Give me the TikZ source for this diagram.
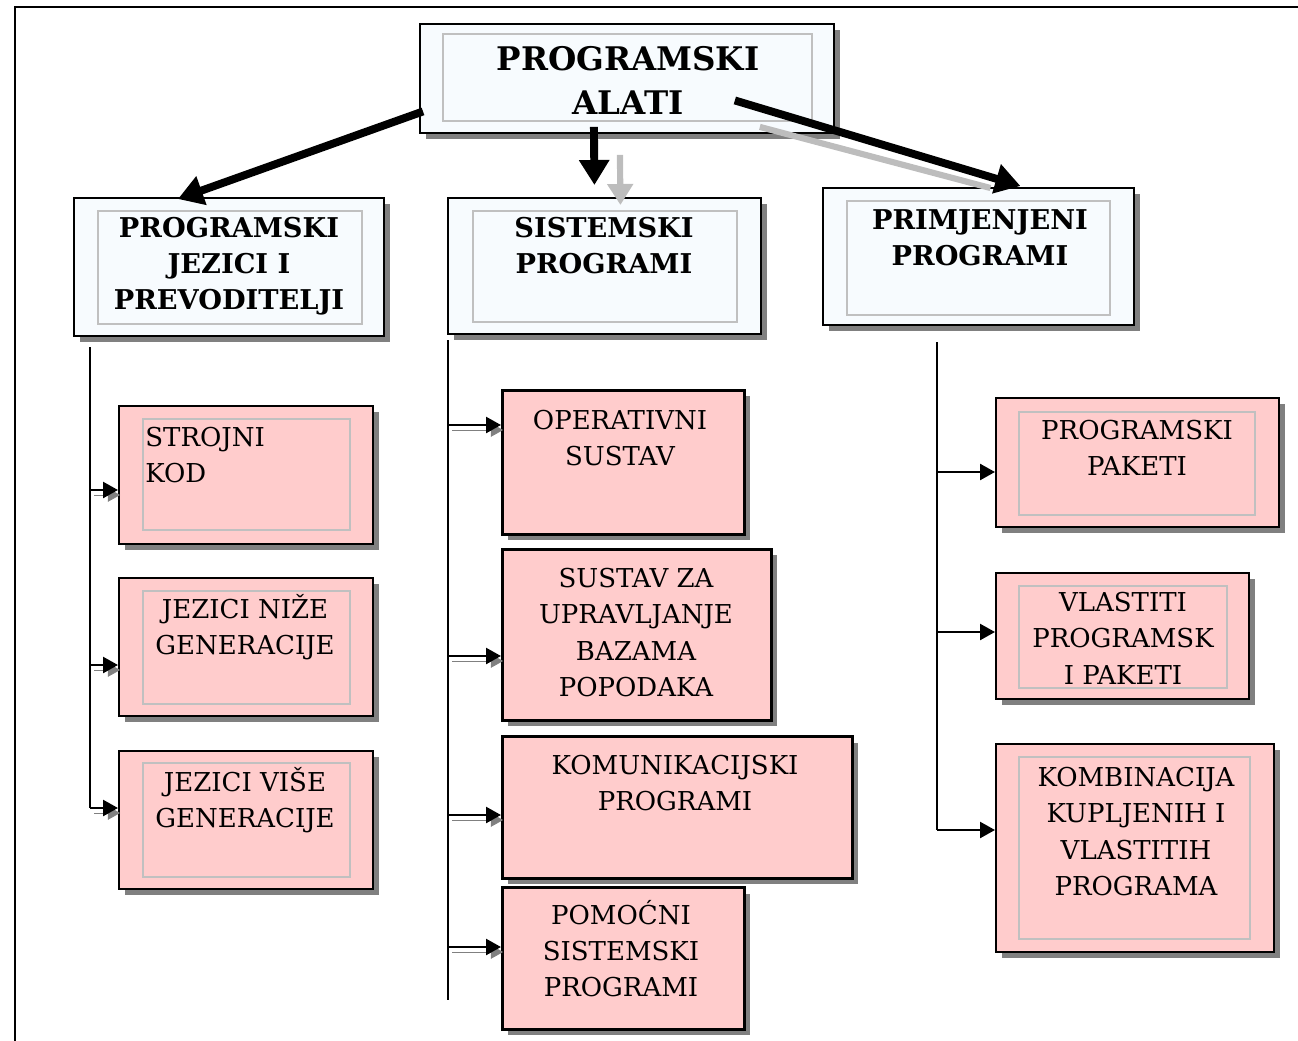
\documentclass[tikz,border=0pt]{standalone}
\usepackage{fontspec}
\setmainfont{DejaVu Serif}
\usetikzlibrary{arrows.meta, calc, shadows}
\definecolor{pinkfill}{HTML}{FFCCCC}
\definecolor{palefill}{HTML}{F7FBFE}
\definecolor{frameline}{HTML}{C0C0C0}
\definecolor{shadowgray}{HTML}{808080}
\definecolor{lightarrow}{HTML}{BDBDBD}

\begin{document}
\begin{tikzpicture}[x=0.02cm, y=-0.02cm,
  topbox/.style={draw=black, line width=1.1pt, fill=palefill, anchor=north west, inner sep=0pt,
    drop shadow={shadow xshift=0.12cm, shadow yshift=-0.12cm, fill=shadowgray, opacity=1}},
  subbox/.style={topbox, fill=pinkfill},
  thickbox/.style={subbox, line width=1.7pt},
  innerframe/.style={draw=frameline, line width=0.8pt},
  headtext/.style={font=\fontsize{18.5}{25}\selectfont\bfseries, align=center, anchor=north, inner sep=0pt},
  midtext/.style={font=\fontsize{15.5}{20.6}\selectfont\bfseries, align=center, anchor=north, inner sep=0pt},
  boxtext/.style={font=\fontsize{14.8}{20.6}\selectfont, align=center, anchor=north, inner sep=0pt},
  bigarrow/.style={line width=4.5pt, -{Triangle[length=0.5cm, width=0.58cm]}},
  trunk/.style={line width=1.2pt},
  subarrow/.style={line width=1.4pt, -{Triangle[length=0.3cm, width=0.32cm]}},
  shadowed/.style={preaction={draw=shadowgray, transform canvas={shift={(0.08cm,-0.1cm)}}}}
]

\useasboundingbox (0,0) rectangle (1298,1041);

% Outer frame
\draw[line width=1.4pt] (15,1050) -- (15,7) -- (1310,7);

% --- Top level boxes ---
\node[topbox, minimum width=8.28cm, minimum height=2.18cm] (top) at (419,23) {};
\node[topbox, minimum width=6.2cm, minimum height=2.76cm] (lang) at (73,197) {};
\node[topbox, minimum width=6.26cm, minimum height=2.72cm] (sys) at (447,197) {};
\node[topbox, minimum width=6.22cm, minimum height=2.74cm] (app) at (822,187) {};

% --- Left column ---
\node[subbox, minimum width=5.08cm, minimum height=2.76cm] (strojni) at (118,405) {};
\node[subbox, minimum width=5.08cm, minimum height=2.76cm] (nize) at (118,577) {};
\node[subbox, minimum width=5.08cm, minimum height=2.76cm] (vise) at (118,750) {};

% --- Middle column ---
\node[thickbox, minimum width=4.84cm, minimum height=2.88cm] (os) at (501,389) {};
\node[thickbox, minimum width=5.38cm, minimum height=3.42cm] (dbms) at (501,548) {};
\node[thickbox, minimum width=7.0cm, minimum height=2.84cm] (kom) at (501,735) {};
\node[thickbox, minimum width=4.84cm, minimum height=2.84cm] (pom) at (501,886) {};

% --- Right column ---
\node[subbox, minimum width=5.66cm, minimum height=2.58cm] (pak) at (995,397) {};
\node[subbox, minimum width=5.06cm, minimum height=2.52cm] (vlast) at (995,572) {};
\node[subbox, minimum width=5.56cm, minimum height=4.16cm] (komb) at (995,743) {};

% Inner frames
\draw[innerframe] ($(top.north west)+(24,11)$) rectangle ($(top.south east)+(-23,-13)$);
\draw[innerframe] ($(lang.north west)+(25,14)$) rectangle ($(lang.south east)+(-23,-13)$);
\draw[innerframe] ($(sys.north west)+(26,14)$) rectangle ($(sys.south east)+(-25,-13)$);
\draw[innerframe] ($(app.north west)+(25,14)$) rectangle ($(app.south east)+(-25,-11)$);
\draw[innerframe] ($(strojni.north west)+(25,14)$) rectangle ($(strojni.south east)+(-24,-15)$);
\draw[innerframe] ($(nize.north west)+(25,14)$) rectangle ($(nize.south east)+(-24,-13)$);
\draw[innerframe] ($(vise.north west)+(25,13)$) rectangle ($(vise.south east)+(-24,-13)$);
\draw[innerframe] ($(pak.north west)+(24,15)$) rectangle ($(pak.south east)+(-25,-13)$);
\draw[innerframe] ($(vlast.north west)+(24,14)$) rectangle ($(vlast.south east)+(-23,-12)$);
\draw[innerframe] ($(komb.north west)+(24,14)$) rectangle ($(komb.south east)+(-25,-14)$);

% Labels
\node[headtext] (topT) at (628,46) {PROGRAMSKI\\ALATI};
\node[midtext] (langT) at (229,217) {PROGRAMSKI\\JEZICI I\\PREVODITELJI};
\node[midtext] (sysT) at (604,217) {SISTEMSKI\\PROGRAMI};
\node[midtext] (appT) at (980,209) {PRIMJENJENI\\PROGRAMI};

\node[boxtext, align=left, anchor=north west] (strojniT) at (145,427) {STROJNI\\KOD};
\node[boxtext] (nizeT) at (245,594) {JEZICI NIŽE\\GENERACIJE};
\node[boxtext] (viseT) at (245,767) {JEZICI VIŠE\\GENERACIJE};

\node[boxtext] (osT) at (620,410) {OPERATIVNI\\SUSTAV};
\node[boxtext] (dbmsT) at (636,568) {SUSTAV ZA\\UPRAVLJANJE\\BAZAMA\\POPODAKA};
\node[boxtext] (komT) at (675,755) {KOMUNIKACIJSKI\\PROGRAMI};
\node[boxtext] (pomT) at (621,900) {POMOĆNI\\SISTEMSKI\\PROGRAMI};

\node[boxtext] (pakT) at (1137,420) {PROGRAMSKI\\PAKETI};
\node[boxtext] (vlastT) at (1123,592) {VLASTITI\\PROGRAMSK\\I PAKETI};
\node[boxtext] (kombT) at (1136,767) {KOMBINACIJA\\KUPLJENIH I\\VLASTITIH\\PROGRAMA};

% --- Arrows from the top box ---
\draw[lightarrow, line width=3.5pt] ($(top.south east)+(-75,-7)$) -- ($(app.north)+(12,1)$);
\draw[lightarrow, line width=3.5pt, -{Triangle[length=0.42cm, width=0.5cm]}]
  ($(top.south)+(-7,21)$) -- ($(sys.north)+(16,8)$);
\draw[bigarrow] ($(top.west)+(4,33)$) -- ($(lang.north)+(-51,2)$);
\draw[bigarrow] ($(top.south)+(-33,-7)$) -- ($(sys.north)+(-10,-12)$);
\draw[bigarrow] ($(top.east)+(-100,22)$) -- ($(app.north)+(42,-1)$);

% --- Left trunk ---
\coordinate (ltop) at (90,347);
\coordinate (l1) at (90,490);
\coordinate (l2) at (90,665);
\coordinate (l3) at (90,808);
\draw[trunk] (ltop) -- (l3);
\draw[subarrow, shadowed] (l1) -- (l1 -| strojni.west);
\draw[subarrow, shadowed] (l2) -- (l2 -| nize.west);
\draw[subarrow, shadowed] (l3) -- (l3 -| vise.west);

% --- Middle trunk ---
\coordinate (mtop) at (448,340);
\coordinate (m1) at (448,425);
\coordinate (m2) at (448,656);
\coordinate (m3) at (448,815);
\coordinate (m4) at (448,947);
\coordinate (mbot) at (448,1000);
\draw[trunk] (mtop) -- (mbot);
\draw[subarrow, shadowed] (m1) -- (m1 -| os.west);
\draw[subarrow, shadowed] (m2) -- (m2 -| dbms.west);
\draw[subarrow, shadowed] (m3) -- (m3 -| kom.west);
\draw[subarrow, shadowed] (m4) -- (m4 -| pom.west);

% --- Right trunk ---
\coordinate (rtop) at (937,342);
\coordinate (r1) at (937,472);
\coordinate (r2) at (937,632);
\coordinate (r3) at (937,830);
\draw[trunk] (rtop) -- (r3);
\draw[subarrow] (r1) -- (r1 -| pak.west);
\draw[subarrow] (r2) -- (r2 -| vlast.west);
\draw[subarrow] (r3) -- (r3 -| komb.west);

\end{tikzpicture}
\end{document}
